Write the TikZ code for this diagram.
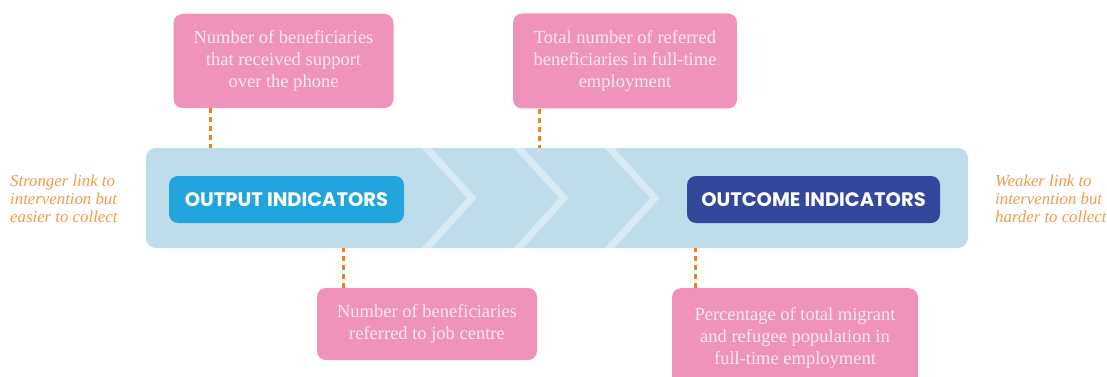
\documentclass[tikz,border=0pt]{standalone}
\usepackage{fontspec}
\setmainfont{Liberation Serif}
\newfontfamily\headfont{Poppins}
\definecolor{bandc}{HTML}{BFDCEB}
\definecolor{outc}{HTML}{22A4DC}
\definecolor{outcomec}{HTML}{33479C}
\definecolor{pinkc}{HTML}{EF93BC}
\definecolor{pinktxt}{HTML}{FCEAF2}
\definecolor{dashc}{HTML}{F0811F}
\definecolor{sidetxt}{HTML}{F39A4D}
\tikzset{
  pinkbox/.style={fill=pinkc, draw=none, rounded corners=9pt, text=pinktxt, align=center,
    font=\fontsize{18.5}{22}\selectfont, inner sep=0pt},
  headbox/.style={draw=none, rounded corners=9pt, text=white, inner sep=0pt,
    minimum height=47pt, font=\headfont\bfseries\fontsize{19.5}{22}\selectfont},
  bandbox/.style={fill=bandc, draw=none, rounded corners=10pt, inner sep=0pt,
    minimum width=822pt, minimum height=100pt},
  conn/.style={draw=dashc, line width=3pt, dash pattern=on 5pt off 4pt},
  chev/.style={draw=white, draw opacity=0.4, line width=7pt},
  side/.style={text=sidetxt, align=left, inner sep=0pt, font=\itshape\fontsize{16.8}{18}\selectfont}
}
\begin{document}
\begin{tikzpicture}[x=1pt,y=-1pt]
\path[use as bounding box] (0,0) rectangle (1107,377);
\clip (0,0) rectangle (1107,377);
% band
\node[bandbox] (band) at (557,198) {};
\begin{scope}
  \clip (146,148) rectangle (968,248);
  \draw[chev] (421,142) -- (472,198) -- (421,254);
  \draw[chev] (513,142) -- (564,198) -- (513,254);
  \draw[chev] (604,142) -- (655,198) -- (604,254);
\end{scope}
% headings
\node[headbox, fill=outc, minimum width=235pt] (out) at (286.5,199.5) {OUTPUT INDICATORS};
\node[headbox, fill=outcomec, minimum width=253pt] (outcome) at (813.5,199.5) {OUTCOME INDICATORS};
% pink boxes
\node[pinkbox, minimum width=220pt, minimum height=94pt] (t1) at (283.5,61)
  {Number of beneficiaries\\that received support\\over the phone};
\node[pinkbox, minimum width=224pt, minimum height=95pt] (t2) at (625,61)
  {Total number of referred\\beneficiaries in full-time\\employment};
\node[pinkbox, minimum width=220pt, minimum height=72pt] (b1) at (427,324)
  {Number of beneficiaries\\referred to job centre};
\node[pinkbox, minimum width=246pt, minimum height=100pt, anchor=north] (b2) at (795,288) {};
\node[pinkbox, anchor=north] (b2t) at (795,307)
  {Percentage of total migrant\\and refugee population in\\full-time employment};
% connectors
\draw[conn] ([xshift=-73.5pt]t1.south) -- ([xshift=-73.5pt]t1.south |- band.north);
\draw[conn] ([xshift=-86pt]t2.south) -- ([xshift=-86pt]t2.south |- band.north);
\draw[conn] ([xshift=-84pt]b1.north) -- ([xshift=-84pt]b1.north |- band.south);
\draw[conn] ([xshift=-100pt]b2.north) -- ([xshift=-100pt]b2.north |- band.south);
% side texts
\node[side, anchor=west] (lt) at (10,199) {Stronger link to\\intervention but\\easier to collect};
\node[side, anchor=west] (rt) at (995,199) {Weaker link to\\intervention but\\harder to collect};
\end{tikzpicture}
\end{document}
